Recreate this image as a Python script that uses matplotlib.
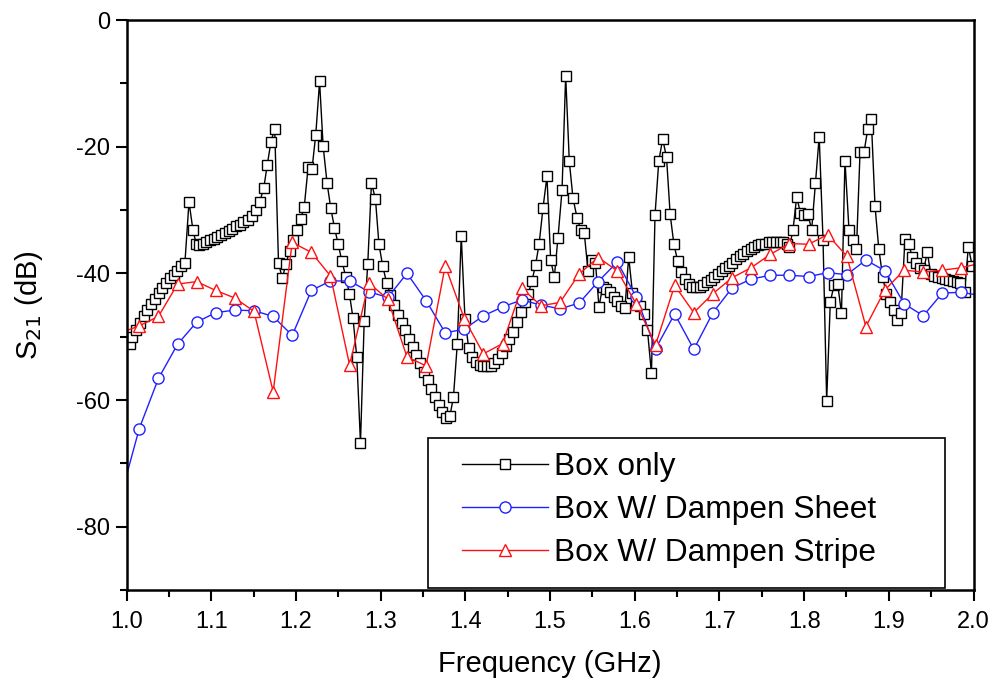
import matplotlib
matplotlib.use("Agg")
import matplotlib.pyplot as plt
from matplotlib.ticker import MultipleLocator
from matplotlib.patches import Rectangle

plt.rcParams['font.family'] = ['Liberation Sans', 'DejaVu Sans']
plt.rcParams['axes.unicode_minus'] = False

# Box only (black squares)
f_box = [1.0035, 1.0066, 1.0110, 1.0154, 1.0201, 1.0243, 1.0287, 1.0334, 1.0378, 1.0420,
         1.0468, 1.0511, 1.0555, 1.0598, 1.0641, 1.0688, 1.0736, 1.0783, 1.0821, 1.0860,
         1.0900, 1.0941, 1.0984, 1.1027, 1.1072, 1.1117, 1.1161, 1.1205, 1.1247, 1.1291,
         1.1334, 1.1379, 1.1427, 1.1476, 1.1523, 1.1571, 1.1618, 1.1660, 1.1704, 1.1748,
         1.1793, 1.1837, 1.1881, 1.1925, 1.1966, 1.2013, 1.2056, 1.2097, 1.2143, 1.2188,
         1.2233, 1.2278, 1.2320, 1.2367, 1.2410, 1.2454, 1.2498, 1.2540, 1.2587, 1.2631,
         1.2672, 1.2717, 1.2761, 1.2805, 1.2847, 1.2891, 1.2938, 1.2979, 1.3024, 1.3070,
         1.3115, 1.3159, 1.3204, 1.3247, 1.3292, 1.3336, 1.3379, 1.3422, 1.3466, 1.3511,
         1.3555, 1.3597, 1.3641, 1.3684, 1.3727, 1.3771, 1.3816, 1.3859, 1.3904, 1.3951,
         1.3995, 1.4039, 1.4081, 1.4125, 1.4169, 1.4211, 1.4255, 1.4298, 1.4343, 1.4388,
         1.4432, 1.4476, 1.4518, 1.4564, 1.4609, 1.4653, 1.4698, 1.4741, 1.4786, 1.4828,
         1.4871, 1.4916, 1.4963, 1.5007, 1.5050, 1.5093, 1.5141, 1.5184, 1.5227, 1.5270,
         1.5318, 1.5361, 1.5404, 1.5448, 1.5491, 1.5536, 1.5577, 1.5621, 1.5664, 1.5707,
         1.5751, 1.5796, 1.5841, 1.5884, 1.5928, 1.5973, 1.6018, 1.6062, 1.6106, 1.6150,
         1.6197, 1.6239, 1.6284, 1.6330, 1.6375, 1.6418, 1.6461, 1.6507, 1.6549, 1.6593,
         1.6637, 1.6679, 1.6723, 1.6767, 1.6809, 1.6853, 1.6896, 1.6939, 1.6983, 1.7026,
         1.7069, 1.7113, 1.7154, 1.7198, 1.7240, 1.7283, 1.7325, 1.7368, 1.7410, 1.7453,
         1.7495, 1.7538, 1.7581, 1.7624, 1.7668, 1.7711, 1.7754, 1.7792, 1.7827, 1.7868,
         1.7912, 1.7955, 1.7998, 1.8045, 1.8089, 1.8134, 1.8178, 1.8223, 1.8266, 1.8309,
         1.8353, 1.8396, 1.8441, 1.8482, 1.8530, 1.8573, 1.8618, 1.8660, 1.8707, 1.8751,
         1.8793, 1.8837, 1.8882, 1.8928, 1.8970, 1.9014, 1.9058, 1.9100, 1.9144, 1.9191,
         1.9235, 1.9277, 1.9321, 1.9368, 1.9412, 1.9454, 1.9495, 1.9537, 1.9581, 1.9624,
         1.9667, 1.9711, 1.9754, 1.9802, 1.9844, 1.9894, 1.9939, 1.9986]
s_box = [-51.1, -50.1, -48.9, -47.9, -46.8, -45.8, -44.8, -44.0, -43.1, -42.3,
         -41.5, -40.8, -40.2, -39.6, -38.9, -38.3, -28.7, -33.2, -35.3, -35.5,
         -35.4, -35.1, -34.7, -34.5, -34.2, -33.9, -33.6, -33.3, -33.0, -32.6,
         -32.3, -31.9, -31.5, -30.9, -30.0, -28.7, -26.6, -22.9, -19.2, -17.2,
         -38.3, -40.8, -38.5, -36.4, -34.7, -33.1, -31.4, -29.5, -23.2, -23.6,
         -18.1, -9.7, -19.9, -25.8, -29.7, -32.8, -35.4, -38.0, -40.5, -43.3,
         -47.0, -53.2, -66.8, -47.5, -38.5, -25.7, -28.3, -35.4, -38.9, -41.5,
         -43.4, -45.0, -46.5, -47.9, -49.0, -50.3, -51.7, -52.9, -54.2, -55.5,
         -56.8, -58.2, -59.5, -60.8, -61.9, -62.9, -62.6, -59.5, -51.2, -34.1,
         -47.2, -51.8, -53.2, -54.0, -54.5, -54.6, -54.6, -54.6, -54.2, -53.6,
         -52.6, -51.5, -50.3, -49.2, -47.7, -46.1, -44.5, -43.3, -41.2, -38.7,
         -35.3, -29.7, -24.7, -37.9, -40.6, -34.4, -26.9, -8.8, -22.3, -28.1,
         -31.2, -33.1, -33.7, -39.6, -37.9, -38.3, -45.3, -42.1, -42.4, -43.0,
         -43.7, -44.4, -45.2, -45.5, -37.4, -43.1, -44.5, -45.2, -46.4, -49.0,
         -55.8, -30.8, -22.2, -18.8, -21.7, -30.7, -35.3, -38.1, -39.8, -40.9,
         -41.7, -42.1, -42.2, -42.1, -41.8, -41.4, -41.0, -40.5, -40.1, -39.7,
         -39.2, -38.8, -38.3, -37.8, -37.3, -36.9, -36.5, -36.2, -35.9, -35.6,
         -35.4, -35.3, -35.1, -35.0, -35.0, -35.0, -35.1, -35.3, -35.8, -33.2,
         -27.9, -30.4, -30.8, -30.7, -33.1, -25.7, -18.4, -34.7, -60.1, -44.5,
         -41.9, -41.7, -46.3, -22.2, -33.2, -34.8, -36.1, -20.9, -20.9, -17.2,
         -15.7, -29.4, -36.2, -40.6, -43.3, -44.6, -45.8, -47.4, -46.2, -34.5,
         -35.4, -37.4, -38.4, -39.1, -39.5, -36.6, -40.1, -40.4, -40.5, -40.8,
         -40.9, -41.1, -41.2, -41.4, -41.6, -43.0, -35.8, -38.9]

# Box W/ Dampen Sheet and Box W/ Dampen Stripe share one frequency set
f_damp = [0.9923, 1.0149, 1.0375, 1.0601, 1.0826, 1.1052, 1.1278, 1.1504, 1.1730, 1.1955,
          1.2181, 1.2407, 1.2633, 1.2859, 1.3084, 1.3310, 1.3536, 1.3762, 1.3988, 1.4213,
          1.4439, 1.4665, 1.4891, 1.5117, 1.5342, 1.5568, 1.5794, 1.6020, 1.6246, 1.6471,
          1.6697, 1.6923, 1.7149, 1.7375, 1.7600, 1.7826, 1.8052, 1.8278, 1.8504, 1.8729,
          1.8955, 1.9181, 1.9407, 1.9633, 1.9858, 2.0084]
s_sheet = [-75.6, -64.5, -56.6, -51.2, -47.7, -46.2, -45.8, -45.9, -46.8, -49.8,
           -42.7, -41.2, -41.2, -42.9, -43.8, -40.0, -44.3, -49.4, -48.8, -46.7,
           -45.3, -44.2, -45.0, -45.6, -44.7, -41.3, -38.2, -43.8, -51.9, -46.4,
           -52.0, -46.2, -42.3, -40.9, -40.3, -40.3, -40.5, -39.9, -40.2, -37.9,
           -39.6, -44.8, -46.7, -43.1, -43.0, -43.5]
s_stripe = [-49.4, -48.3, -46.8, -41.7, -41.3, -42.7, -43.9, -46.0, -58.7, -35.1,
            -36.7, -40.4, -54.5, -41.5, -44.1, -53.2, -54.6, -38.8, -47.2, -52.7,
            -51.1, -42.3, -45.1, -44.6, -40.1, -37.5, -39.6, -44.9, -51.3, -41.9,
            -46.2, -43.2, -40.7, -39.1, -37.0, -35.3, -35.4, -33.9, -37.3, -48.4,
            -42.6, -39.5, -39.8, -39.5, -39.1, -38.4]

fig = plt.figure(figsize=(9.95, 6.81), dpi=100)
ax = fig.add_axes([0.1273, 0.1336, 0.8511, 0.8370])

ax.plot(f_box, s_box, color='black', lw=1.0, marker='s', ms=6.5,
        mfc='white', mec='black', mew=1.0, label='Box only')
ax.plot(f_damp, s_sheet, color='#2020ff', lw=1.0, marker='o', ms=8,
        mfc='white', mec='#2020ff', mew=1.0, label='Box W/ Dampen Sheet')
ax.plot(f_damp, s_stripe, color='#ff1010', lw=1.0, marker='^', ms=8.5,
        mfc='white', mec='#ff1010', mew=1.0, label='Box W/ Dampen Stripe')

ax.set_xlim(1.0, 2.0)
ax.set_ylim(-90, 0)
ax.xaxis.set_major_locator(MultipleLocator(0.1))
ax.xaxis.set_minor_locator(MultipleLocator(0.05))
ax.yaxis.set_major_locator(MultipleLocator(20))
ax.yaxis.set_minor_locator(MultipleLocator(10))
ax.tick_params(which='both', direction='out', width=1.5, labelsize=17)
ax.tick_params(which='major', length=8)
ax.tick_params(which='minor', length=5)
ax.tick_params(axis='x', pad=7)
ax.tick_params(axis='y', pad=4)
for sp in ax.spines.values():
    sp.set_linewidth(1.8)

ax.set_xlabel('Frequency (GHz)', fontsize=21, labelpad=12)
ax.set_ylabel('S$_{21}$ (dB)', fontsize=21, labelpad=22)

# legend frame drawn separately so it can be wider than the entries
frame = Rectangle((0.3558, 0.0035), 0.6106, 0.2632, transform=ax.transAxes,
                  facecolor='white', edgecolor='black', lw=1.2, zorder=4)
ax.add_patch(frame)
leg = ax.legend(loc='center left', bbox_to_anchor=(0.3962, 0.1404), numpoints=1,
                fontsize=22.8, frameon=False, borderpad=0, borderaxespad=0,
                handlelength=2.7, handletextpad=0.2, labelspacing=0.4)
leg.set_zorder(5)

fig.savefig('out.png', dpi=100)
